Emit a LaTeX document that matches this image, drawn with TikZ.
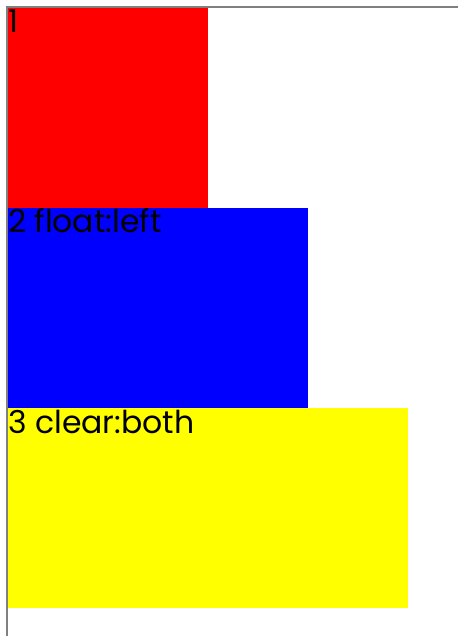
\documentclass[tikz,border=0pt]{standalone}
\usepackage{fontspec}
\setmainfont{Poppins}
\definecolor{bred}{RGB}{255,0,0}
\definecolor{bblue}{RGB}{0,0,255}
\definecolor{byellow}{RGB}{255,255,0}
\definecolor{bgray}{RGB}{128,128,128}
\begin{document}
\begin{tikzpicture}[x=1pt,y=-1pt,
  lbl/.style={anchor=base west,inner sep=0pt,font=\fontsize{31.5}{31.5}\selectfont,text=black}]
\useasboundingbox (0,0) rectangle (458,636);
\fill[bgray] (6,6) rectangle (458,8);
\fill[bgray] (6,6) rectangle (8,636);
\fill[bred] (8,8) rectangle (208,208);
\fill[bblue] (8,208) rectangle (308,408);
\fill[byellow] (8,408) rectangle (408,608);
\node[lbl] (t1) at (8,33) {1};
\node[lbl] (t2) at (8,233) {2 float:left};
\node[lbl] (t3) at (8,433) {3 clear:both};
\end{tikzpicture}
\end{document}
